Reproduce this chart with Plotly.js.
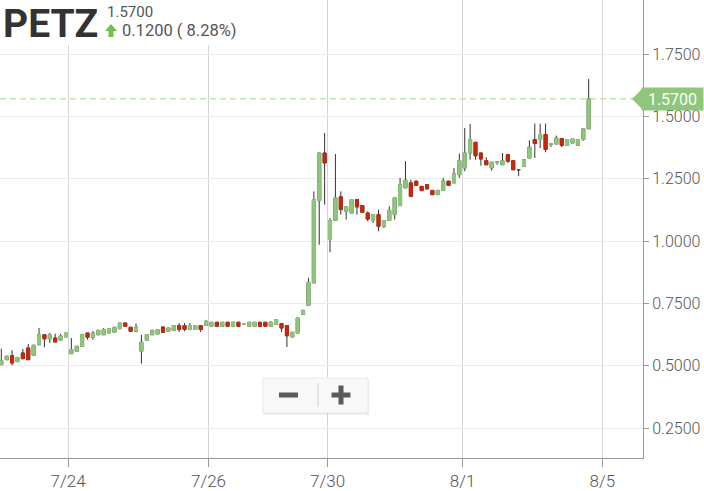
<!DOCTYPE html>
<html><head><meta charset="utf-8">
<script src="https://cdn.plot.ly/plotly-3.0.1.min.js"></script>
<style>html,body{margin:0;padding:0;background:#fff;}#chart{width:704px;height:491px;}</style>
</head><body><div id="chart"></div>
<script>
// 30-minute candles, PETZ
const openP = [0.504,0.524,0.540,0.516,0.551,0.571,0.542,0.584,0.624,0.608, 0.611,0.602,0.615,0.548,0.558,0.578,0.631,0.614,0.624,0.624, 0.631,0.634,0.649,0.671,0.654,0.638,0.558,0.602,0.624,0.627, 0.655,0.638,0.642,0.661,0.661,0.645,0.645,0.661,0.661,0.658, 0.674,0.658,0.674,0.658,0.674,0.668,0.658,0.658,0.674,0.674, 0.658,0.665,0.669,0.661,0.615,0.631,0.705,0.741,0.832,1.162, 1.353,1.006,1.083,1.177,1.119,1.112,1.166,1.142,1.112,1.083, 1.106,1.059,1.082,1.106,1.142,1.213,1.233,1.240,1.219,1.226, 1.203,1.186,1.203,1.240,1.233,1.266,1.293,1.353,1.396,1.353, 1.322,1.293,1.316,1.306,1.346,1.322,1.286,1.300,1.333,1.407, 1.407,1.427,1.389,1.389,1.411,1.384,1.393,1.384,1.407,1.450];
const highP = [0.568,0.538,0.562,0.533,0.567,0.587,0.582,0.651,0.624,0.631, 0.628,0.628,0.631,0.611,0.578,0.628,0.631,0.639,0.642,0.651, 0.651,0.654,0.671,0.671,0.654,0.669,0.624,0.624,0.642,0.645, 0.655,0.651,0.661,0.671,0.671,0.671,0.661,0.661,0.682,0.674, 0.674,0.674,0.674,0.674,0.674,0.670,0.674,0.674,0.674,0.674, 0.678,0.685,0.669,0.661,0.634,0.691,0.722,0.852,1.199,1.353, 1.433,1.092,1.349,1.199,1.137,1.166,1.166,1.142,1.119,1.106, 1.126,1.082,1.139,1.173,1.253,1.320,1.246,1.240,1.219,1.226, 1.203,1.203,1.253,1.240,1.293,1.350,1.453,1.469,1.396,1.353, 1.336,1.316,1.320,1.353,1.346,1.322,1.286,1.326,1.404,1.471, 1.471,1.471,1.393,1.423,1.411,1.407,1.409,1.407,1.450,1.650];
const lowP = [0.504,0.524,0.501,0.516,0.528,0.524,0.542,0.584,0.574,0.591, 0.595,0.602,0.615,0.548,0.558,0.578,0.604,0.604,0.624,0.624, 0.631,0.634,0.645,0.658,0.635,0.634,0.508,0.602,0.624,0.627, 0.634,0.638,0.642,0.635,0.638,0.645,0.645,0.635,0.661,0.658, 0.658,0.658,0.658,0.658,0.658,0.667,0.658,0.658,0.658,0.658, 0.658,0.665,0.635,0.575,0.615,0.631,0.705,0.741,0.832,0.985, 1.146,0.955,1.083,1.106,1.086,1.112,1.106,1.115,1.079,1.072, 1.039,1.052,1.082,1.086,1.142,1.213,1.179,1.223,1.202,1.209, 1.186,1.186,1.203,1.223,1.233,1.253,1.280,1.326,1.326,1.302, 1.306,1.282,1.306,1.306,1.313,1.286,1.260,1.300,1.333,1.333, 1.373,1.356,1.377,1.389,1.377,1.384,1.393,1.384,1.402,1.450];
const closeP = [0.520,0.538,0.511,0.533,0.528,0.524,0.582,0.624,0.608,0.624, 0.595,0.620,0.631,0.564,0.578,0.624,0.614,0.631,0.642,0.645, 0.649,0.654,0.671,0.658,0.638,0.654,0.594,0.624,0.642,0.645, 0.634,0.651,0.661,0.645,0.645,0.661,0.661,0.645,0.678,0.674, 0.658,0.674,0.658,0.674,0.658,0.668,0.674,0.674,0.658,0.658, 0.674,0.685,0.651,0.620,0.634,0.691,0.722,0.834,1.166,1.353, 1.313,1.082,1.173,1.126,1.137,1.166,1.137,1.115,1.088,1.106, 1.059,1.082,1.123,1.173,1.226,1.244,1.179,1.223,1.202,1.209, 1.186,1.203,1.240,1.223,1.269,1.322,1.353,1.407,1.342,1.329, 1.306,1.316,1.316,1.322,1.320,1.286,1.286,1.326,1.376,1.391, 1.427,1.367,1.389,1.413,1.384,1.407,1.409,1.407,1.450,1.570];
const tickPos = [12.4, 38.45, 60.55, 85.6, 111.55];
const tickLabels = ['7/24','7/26','7/30','8/1','8/5'];
const symbol = 'PETZ';
const priceChange = 0.12;
const changePct = 8.28;

const idx = openP.map((_, i) => i);
const bodyHigh = openP.map((o, i) => Math.max(o, closeP[i]));
const bodyLow = openP.map((o, i) => Math.min(o, closeP[i]));
const lastPrice = closeP[closeP.length - 1];

const GREEN = '#8ec77c', RED = '#c3290f', WICK = '#333333';
const PW = 643, PH = 458;
const px = x => x / PW;
const py = y => (PH - y) / PH;

const wicks = {
  type: 'candlestick', x: idx, open: openP, high: highP, low: lowP, close: closeP,
  increasing: {line: {color: WICK, width: 1}, fillcolor: WICK},
  decreasing: {line: {color: WICK, width: 1}, fillcolor: WICK},
  whiskerwidth: 0, hoverinfo: 'skip', showlegend: false
};
const bodies = {
  type: 'candlestick', x: idx, open: openP, high: bodyHigh, low: bodyLow, close: closeP,
  increasing: {line: {color: GREEN, width: 1}, fillcolor: GREEN},
  decreasing: {line: {color: RED, width: 1}, fillcolor: RED},
  whiskerwidth: 0, hoverinfo: 'skip', showlegend: false
};

const tickFont = {family: 'Roboto', size: 16, color: '#555', weight: 300};

const layout = {
  width: 704, height: 491,
  margin: {l: 0, r: 61, t: 0, b: 33, pad: 0},
  paper_bgcolor: '#fff', plot_bgcolor: '#fff',
  showlegend: false, boxgap: 0.2,
  xaxis: {
    type: 'linear', range: [-0.241, 119.08], rangeslider: {visible: false},
    tickmode: 'array', tickvals: tickPos, ticktext: tickLabels,
    showgrid: true, gridcolor: '#d4d4d4', gridwidth: 1,
    showline: true, linecolor: '#9a9a9a', linewidth: 1,
    ticks: 'outside', ticklen: 8, tickcolor: '#9a9a9a',
    tickfont: Object.assign({}, tickFont, {size: 17}), zeroline: false, fixedrange: true
  },
  yaxis: {
    side: 'right', range: [0.1297, 1.9666], dtick: 0.25, tick0: 0, tickformat: '.4f',
    showgrid: true, gridcolor: '#ebebeb', gridwidth: 1,
    showline: true, linecolor: '#9a9a9a', linewidth: 1,
    ticks: 'outside', ticklen: 5, tickcolor: '#9a9a9a',
    tickfont: tickFont, zeroline: false, fixedrange: true
  },
  shapes: [
    {type: 'line', xref: 'paper', yref: 'y', x0: 0, x1: 1, y0: lastPrice, y1: lastPrice,
     line: {color: '#a2d293', width: 1, dash: '6px,4px'}, layer: 'between'},
    {type: 'rect', xref: 'paper', yref: 'paper', x0: px(0), x1: px(250), y0: py(45), y1: py(0),
     fillcolor: '#fff', line: {width: 0}, layer: 'above'},
    {type: 'path', xref: 'paper', yref: 'paper',
     path: `M ${px(105)},${py(31)} L ${px(111)},${py(24)} L ${px(117)},${py(31)} L ${px(113.5)},${py(31)} L ${px(113.5)},${py(37)} L ${px(108.5)},${py(37)} L ${px(108.5)},${py(31)} Z`,
     fillcolor: '#74c04f', line: {width: 0}, layer: 'above'},
    {type: 'path', xref: 'paper', yref: 'y', xsizemode: 'pixel', ysizemode: 'pixel', xanchor: 1, yanchor: lastPrice,
     path: 'M -11,0 L 0,11 L 0,-11 Z', fillcolor: GREEN, line: {width: 0}, layer: 'above'},
    {type: 'rect', xref: 'paper', yref: 'paper', x0: px(263), x1: px(369), y0: py(415), y1: py(379),
     fillcolor: 'rgba(0,0,0,0.07)', line: {width: 0}, layer: 'above'},
    {type: 'rect', xref: 'paper', yref: 'paper', x0: px(263), x1: px(368), y0: py(413), y1: py(378),
     fillcolor: '#f8f8f8', line: {color: '#e8e8e8', width: 1}, layer: 'above'},
    {type: 'line', xref: 'paper', yref: 'paper', x0: px(318), x1: px(318), y0: py(407), y1: py(383),
     line: {color: '#d2d2d2', width: 1}, layer: 'above'},
    {type: 'rect', xref: 'paper', yref: 'paper', x0: px(279), x1: px(298), y0: py(397.5), y1: py(392.5),
     fillcolor: '#5a5a5a', line: {width: 0}, layer: 'above'},
    {type: 'rect', xref: 'paper', yref: 'paper', x0: px(331.5), x1: px(350.5), y0: py(397.5), y1: py(392.5),
     fillcolor: '#5a5a5a', line: {width: 0}, layer: 'above'},
    {type: 'rect', xref: 'paper', yref: 'paper', x0: px(338.5), x1: px(343.5), y0: py(404.5), y1: py(385.5),
     fillcolor: '#5a5a5a', line: {width: 0}, layer: 'above'}
  ],
  annotations: [
    {xref: 'paper', yref: 'paper', x: px(1), y: py(23.5), xanchor: 'left', yanchor: 'middle', showarrow: false,
     text: symbol, font: {family: 'Roboto', size: 39, color: '#333', weight: 700}},
    {xref: 'paper', yref: 'paper', x: px(105), y: py(12), xanchor: 'left', yanchor: 'middle', showarrow: false,
     text: lastPrice.toFixed(4), font: {family: 'Roboto', size: 15, color: '#555'}},
    {xref: 'paper', yref: 'paper', x: px(120), y: py(30), xanchor: 'left', yanchor: 'middle', showarrow: false,
     text: priceChange.toFixed(4) + ' ( ' + changePct.toFixed(2) + '%)', font: {family: 'Roboto', size: 16.5, color: '#555'}},
    {xref: 'paper', yref: 'y', x: px(673), y: lastPrice, xanchor: 'center', yanchor: 'middle', showarrow: false,
     text: lastPrice.toFixed(4), bgcolor: GREEN, width: 61, height: 22, borderpad: 0,
     font: {family: 'Roboto', size: 16, color: '#fff'}}
  ]
};

Plotly.newPlot('chart', [wicks, bodies], layout, {displayModeBar: false, staticPlot: true});
</script>
</body></html>
